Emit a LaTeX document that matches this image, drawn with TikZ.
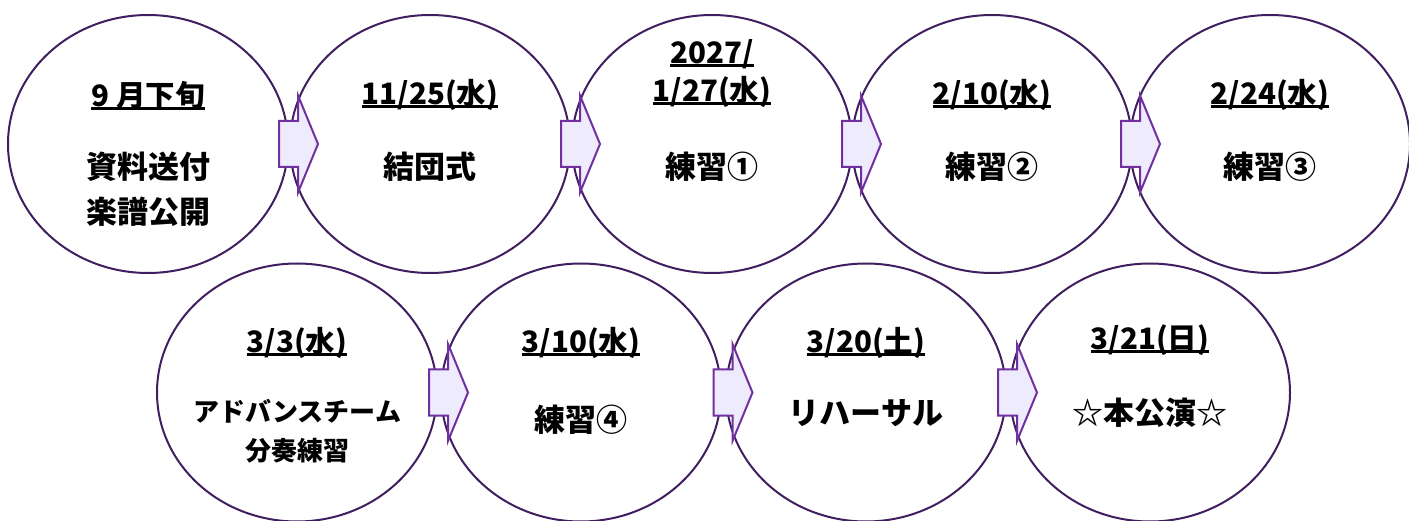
\documentclass[tikz,border=0pt]{standalone}
\usepackage{fontspec}
\setmainfont{Noto Sans CJK JP}
\usetikzlibrary{calc,shapes.geometric}
\definecolor{ringline}{HTML}{3F1F5F}
\definecolor{arrowedge}{HTML}{7030A0}
\definecolor{arrowfill}{HTML}{EEEBFC}
\newsavebox{\datebox}
\newcommand{\datebar}[1]{\sbox{\datebox}{#1}\rlap{\usebox{\datebox}}\raisebox{-3.5pt}[0pt][0pt]{\rule{\wd\datebox}{3pt}}}

\begin{document}
\begin{tikzpicture}[x=1pt,y=1pt,
    ring/.style={ellipse,draw=ringline,line width=2pt,minimum width=280,minimum height=258,inner sep=0pt},
    datetext/.style={font=\bfseries\fontsize{29.5}{38}\selectfont,align=center},
    bodytext/.style={font=\bfseries\fontsize{31}{45}\selectfont,align=center},
    smalltext/.style={font=\bfseries\fontsize{26}{39}\selectfont,align=center},
    arrowbody/.style={draw=arrowedge,fill=arrowfill,line width=2pt,line join=miter},
    pics/steparrow/.style={code={
        \path[arrowbody] (-19.5,23) -- (-0.5,23) -- (-0.5,48.5) -- (19.5,0)
            -- (-0.5,-48.5) -- (-0.5,-23) -- (-19.5,-23) -- cycle;}}]
    \useasboundingbox (0,0) rectangle (1409,520);
    \node[ring] (e1) at (148,376) {};
    \node[ring] (e2) at (430,376) {};
    \node[ring] (e3) at (712,376) {};
    \node[ring] (e4) at (992,376) {};
    \node[ring] (e5) at (1270,376) {};
    \node[ring] (e6) at (297,127.5) {};
    \node[ring] (e7) at (581,127.5) {};
    \node[ring] (e8) at (866,127.5) {};
    \node[ring] (e9) at (1150,127.5) {};
    \foreach \a/\b in {e1/e2,e2/e3,e3/e4,e4/e5,e6/e7,e7/e8,e8/e9}
        \pic at ($(\a.center)!0.5!(\b.center)+(9.5,0)$) {steparrow};
    \node[datetext] (d1) at ($(e1)+(0,49)$) {\datebar{9 月下旬}};
    \node[bodytext] (b1) at ($(e1)+(0,-45.5)$) {資料送付\\楽譜公開};
    \node[datetext] (d2) at ($(e2)+(0,49)$) {\datebar{11/25(水)}};
    \node[bodytext] (b2) at ($(e2)+(0,-23)$) {結団式};
    \node[datetext] (d3) at ($(e3)+(0,70)$) {\datebar{2027/}\\\datebar{1/27(水)}};
    \node[bodytext] (b3) at ($(e3)+(0,-23)$) {練習①};
    \node[datetext] (d4) at ($(e4)+(0,49)$) {\datebar{2/10(水)}};
    \node[bodytext] (b4) at ($(e4)+(0,-23)$) {練習②};
    \node[datetext] (d5) at ($(e5)+(0,49)$) {\datebar{2/24(水)}};
    \node[bodytext] (b5) at ($(e5)+(0,-23)$) {練習③};
    \node[datetext] (d6) at ($(e6)+(0,49.5)$) {\datebar{3/3(水)}};
    \node[smalltext] (b6) at ($(e6)+(0,-39)$) {アドバンスチーム\\分奏練習};
    \node[datetext] (d7) at ($(e7)+(0,49.5)$) {\datebar{3/10(水)}};
    \node[bodytext] (b7) at ($(e7)+(0,-27.5)$) {練習④};
    \node[datetext] (d8) at ($(e8)+(0,49.5)$) {\datebar{3/20(土)}};
    \node[bodytext] (b8) at ($(e8)+(0,-20.5)$) {リハーサル};
    \node[datetext] (d9) at ($(e9)+(0,52.5)$) {\datebar{3/21(日)}};
    \node[bodytext] (b9) at ($(e9)+(0,-20.5)$) {☆本公演☆};
\end{tikzpicture}
\end{document}
